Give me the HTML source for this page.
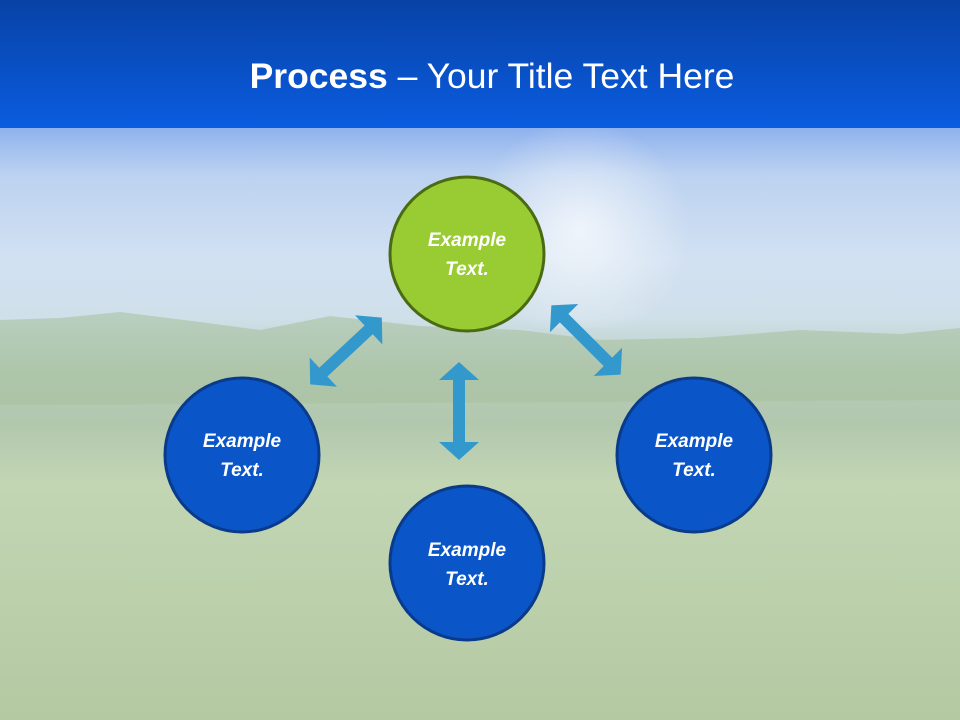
<!DOCTYPE html>
<html><head><meta charset="utf-8"><style>
html,body{margin:0;padding:0}
body{width:960px;height:720px;overflow:hidden;position:relative;font-family:"Liberation Sans",sans-serif}
</style></head><body>
<svg width="960" height="720" viewBox="0 0 960 720" xmlns="http://www.w3.org/2000/svg" style="position:absolute;left:0;top:0">
<defs>
<linearGradient id="hdr" x1="0" y1="0" x2="0" y2="1">
<stop offset="0" stop-color="#0842a6"/><stop offset="1" stop-color="#0a5ce0"/></linearGradient>
<linearGradient id="bg" x1="0" y1="0" x2="0" y2="1">
<stop offset="0" stop-color="#8fb2ee"/>
<stop offset="0.08" stop-color="#bcd2f0"/>
<stop offset="0.22" stop-color="#d2e1f2"/>
<stop offset="0.32" stop-color="#d0e0ea"/>
<stop offset="0.42" stop-color="#b4cab5"/>
<stop offset="0.5" stop-color="#b2c8ae"/>
<stop offset="0.6" stop-color="#c2d6b4"/>
<stop offset="1" stop-color="#b4c9a2"/>
</linearGradient>
<radialGradient id="sun" cx="580" cy="230" r="110" gradientUnits="userSpaceOnUse">
<stop offset="0" stop-color="#ffffff" stop-opacity="0.7"/><stop offset="1" stop-color="#ffffff" stop-opacity="0"/></radialGradient>
<g id="arr"><polygon points="0,-49 20,-31 6,-31 6,31 20,31 0,49 -20,31 -6,31 -6,-31 -20,-31" fill="#3399cc"/></g>
</defs>
<rect x="0" y="128" width="960" height="592" fill="url(#bg)"/>
<rect x="0" y="128" width="960" height="200" fill="url(#sun)"/>
<path d="M0,320 L60,318 L120,312 L200,322 L260,330 L330,316 L420,326 L520,330 L600,340 L700,338 L800,330 L900,334 L960,328 L960,400 L0,405Z" fill="#a9c2a0" opacity="0.6"/>
<rect x="0" y="0" width="960" height="128" fill="url(#hdr)"/>
<text x="492" y="88" text-anchor="middle" fill="#fff" font-size="35.5" font-family="Liberation Sans,sans-serif"><tspan font-weight="bold">Process</tspan> – Your Title Text Here</text>
<use href="#arr" transform="translate(459,411)"/>
<use href="#arr" transform="translate(346,351) rotate(47)"/>
<use href="#arr" transform="translate(586,340) rotate(-45)"/>
<g font-family="Liberation Sans,sans-serif" font-style="italic" font-weight="bold" font-size="19" fill="#fff" text-anchor="middle">
<circle cx="467" cy="254" r="77" fill="#99cc33" stroke="#4a6a14" stroke-width="3"/>
<text x="467" y="246">Example</text><text x="467" y="275">Text.</text>
<circle cx="242" cy="455" r="77" fill="#0a55c8" stroke="#0a3a8a" stroke-width="3"/>
<text x="242" y="447">Example</text><text x="242" y="476">Text.</text>
<circle cx="694" cy="455" r="77" fill="#0a55c8" stroke="#0a3a8a" stroke-width="3"/>
<text x="694" y="447">Example</text><text x="694" y="476">Text.</text>
<circle cx="467" cy="563" r="77" fill="#0a55c8" stroke="#0a3a8a" stroke-width="3"/>
<text x="467" y="556">Example</text><text x="467" y="585">Text.</text>
</g>
</svg>
</body></html>
